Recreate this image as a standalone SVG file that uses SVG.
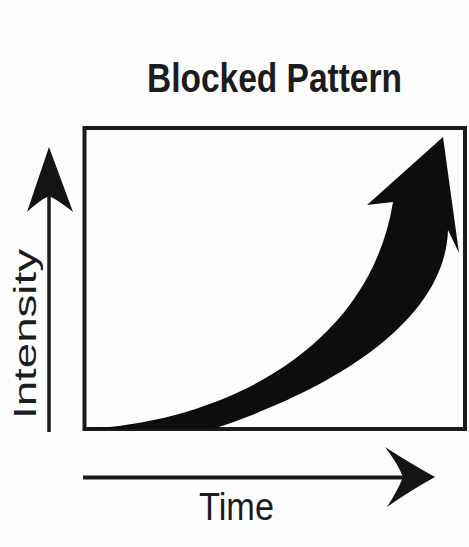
<svg xmlns="http://www.w3.org/2000/svg" width="469" height="547" viewBox="0 0 469 547">
  <style>
    .txt { font-family: "Liberation Sans", Arial, sans-serif; fill: #1c1c1c; }
    .axis { stroke: #1a1a1a; fill: none; }
    .head { fill: #141414; }
  </style>
  <rect x="0" y="0" width="469" height="547" fill="#fdfdfd"/>

  <g id="title">
    <text class="txt" x="147" y="92" font-size="41" font-weight="bold" textLength="255" lengthAdjust="spacingAndGlyphs">Blocked Pattern</text>
  </g>

  <g id="plot-box">
    <rect x="84.5" y="128" width="380.5" height="301" fill="none" stroke="#1a1a1a" stroke-width="4"/>
  </g>

  <g id="intensity-axis">
    <line class="axis" x1="49" y1="432" x2="49" y2="190" stroke-width="3.5"/>
    <path class="head" d="M49,147 L73,212 Q58,200 49,196 Q40,200 27,212 Z"/>
    <text class="txt" transform="translate(36,419) rotate(-90)" x="0" y="0" font-size="32" textLength="170" lengthAdjust="spacingAndGlyphs">Intensity</text>
  </g>

  <g id="time-axis">
    <line class="axis" x1="83" y1="477.5" x2="410" y2="477.5" stroke-width="4"/>
    <path class="head" d="M435,477 Q408,492 387,507 Q398,490 403,477 Q398,464 385,447 Q408,462 435,477 Z"/>
    <text class="txt" x="199" y="520" font-size="39" textLength="75" lengthAdjust="spacingAndGlyphs">Time</text>
  </g>

  <g id="connectors">
    <path id="blocked-curve" fill="#0d0d0d" d="M85,429 C230,421 370,345 393,202 L367,205 L443,137 L459,253 L448,230 C445,325 325,392 213,429 Z"/>
  </g>
</svg>
